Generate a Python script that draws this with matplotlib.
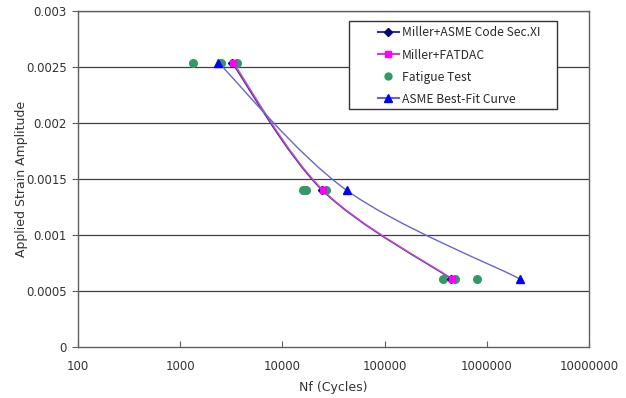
import matplotlib.pyplot as plt
import numpy as np
from matplotlib.path import Path
from matplotlib.patches import PathPatch, Rectangle
from matplotlib.lines import Line2D
from matplotlib.ticker import FixedLocator, FuncFormatter

# Miller + ASME Code Sec.XI
asme_n = [3200, 24500, 445000]
asme_eps = [0.00254, 0.0014, 0.00061]

# Miller + FATDAC
fatdac_n = [3300, 25000, 455000]
fatdac_eps = [0.00254, 0.0014, 0.00061]

# Fatigue test data
test_n = [1330, 2500, 3600, 16000, 17000, 26800, 376000, 490000, 810000]
test_eps = [0.00254, 0.00254, 0.00254, 0.0014, 0.0014, 0.0014, 0.00061, 0.00061, 0.00061]

# ASME best-fit curve
best_n = [2360, 42400, 2090000]
best_eps = [0.00254, 0.0014, 0.00061]

x_ticks = [100, 1000, 10000, 100000, 1000000, 10000000]
y_ticks = [0, 0.0005, 0.001, 0.0015, 0.002, 0.0025, 0.003]
y_tick_labels = ["0", "0.0005", "0.001", "0.0015", "0.002", "0.0025", "0.003"]

TXT = "#333333"
W, H = 626, 398


def smooth_path(xs, ys):
    """Excel-like smoothed line: cubic Bezier through the points (log x space)."""
    p = np.column_stack([np.log10(xs), ys])
    n = len(p)
    verts = [p[0]]
    codes = [Path.MOVETO]
    for i in range(n - 1):
        prev = p[i - 1] if i > 0 else p[i]
        nxt = p[i + 2] if i + 2 < n else p[i + 1]
        c1 = p[i] + (p[i + 1] - prev) / 6.0
        c2 = p[i + 1] - (nxt - p[i]) / 6.0
        verts += [c1, c2, p[i + 1]]
        codes += [Path.CURVE4] * 3
    v = np.array(verts)
    v[:, 0] = 10 ** v[:, 0]
    return Path(v, codes)


fig = plt.figure(figsize=(W / 100, H / 100), dpi=100)
ax = fig.add_axes([78 / W, 1 - 347 / H, 511 / W, 336 / H])
ax.set_xscale("log")
ax.set_xlim(100, 10000000)
ax.set_ylim(0, 0.003)

# grid
for y in y_ticks[1:]:
    ax.axhline(y, color="#404040", lw=0.9, zorder=1)

series = [
    (asme_n, asme_eps, "#333399", "#000080", "D", 4.5),
    (fatdac_n, fatdac_eps, "#CC44CC", "#FF00FF", "s", 5),
    (best_n, best_eps, "#6666CC", "#0000FF", "^", 6),
]
for xs, ys, lc, mc, mk, ms in series:
    ax.add_patch(PathPatch(smooth_path(xs, ys), facecolor="none", edgecolor=lc,
                           lw=1.0, zorder=3))
    ax.plot(xs, ys, ls="none", marker=mk, color=mc, ms=ms, zorder=5)

ax.plot(test_n, test_eps, ls="none", marker="o", color="#339966", ms=5.5, zorder=4)

ax.xaxis.set_major_locator(FixedLocator(x_ticks))
ax.xaxis.set_minor_locator(FixedLocator([]))
ax.xaxis.set_major_formatter(FuncFormatter(lambda v, p: f"{int(round(v))}"))
ax.set_yticks(y_ticks)
ax.set_yticklabels(y_tick_labels)
ax.tick_params(axis="x", direction="in", length=4, color="#606060", labelsize=8.5,
               labelcolor=TXT, pad=9)
ax.tick_params(axis="y", direction="out", length=4, color="#606060", labelsize=8.5,
               labelcolor=TXT, pad=4)
for s in ax.spines.values():
    s.set_color("#606060")
    s.set_linewidth(1.0)

ax.set_xlabel("Nf (Cycles)", fontsize=9, color=TXT, labelpad=6)
ax.set_ylabel("Applied Strain Amplitude", fontsize=9, color=TXT, labelpad=-1)

# legend box drawn separately so padding matches the original
fig.add_artist(Rectangle((349 / W, 1 - 109 / H), 208 / W, 88 / H,
                         transform=fig.transFigure, facecolor="white",
                         edgecolor="#333333", lw=1.0, zorder=6))
handles = [
    Line2D([], [], color="#333399", marker="D", mfc="#000080", mec="#000080", ms=4.5),
    Line2D([], [], color="#CC44CC", marker="s", mfc="#FF00FF", mec="#FF00FF", ms=5),
    Line2D([], [], ls="none", marker="o", color="#339966", ms=5),
    Line2D([], [], color="#6666CC", marker="^", mfc="#0000FF", mec="#0000FF", ms=5.5),
]
labels = ["Miller+ASME Code Sec.XI", "Miller+FATDAC", "Fatigue Test", "ASME Best-Fit Curve"]
leg = fig.legend(handles, labels, loc="upper left",
                 bbox_to_anchor=(378 / W, 1 - 26.5 / H), bbox_transform=fig.transFigure,
                 prop={"family": ["Noto Sans CJK KR", "DejaVu Sans"], "size": 8.7},
                 frameon=False, handlelength=1.7, labelspacing=0.75,
                 borderpad=0, borderaxespad=0, handletextpad=0.3)
leg.set_zorder(7)
for t in leg.get_texts():
    t.set_color("#2a2a2a")

fig.savefig("out.png", dpi=100)
